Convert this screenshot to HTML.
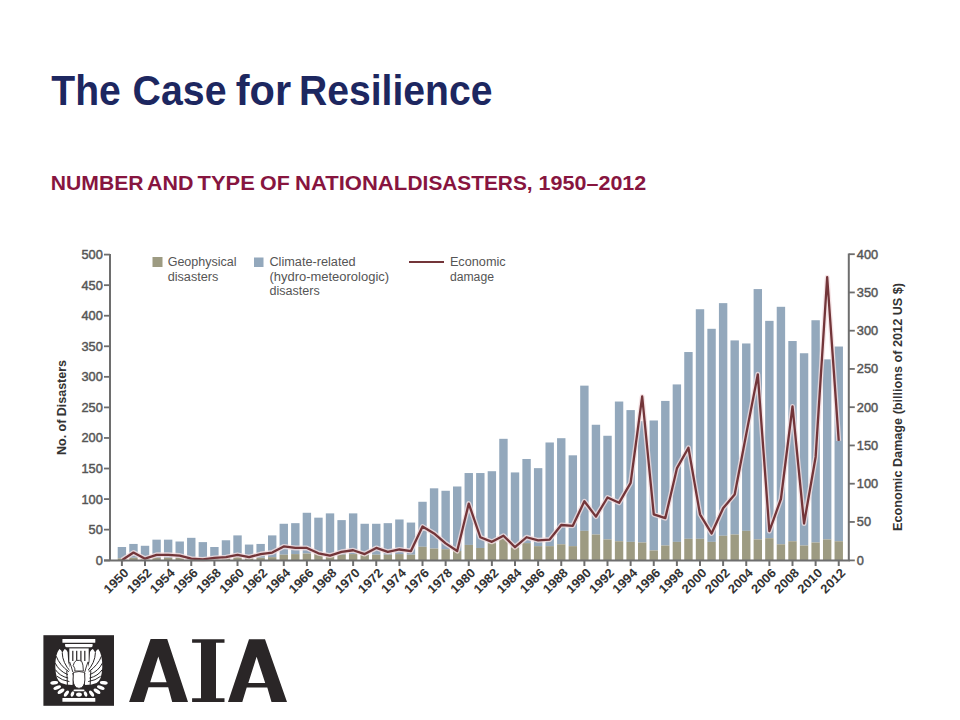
<!DOCTYPE html>
<html><head><meta charset="utf-8">
<style>
html,body{margin:0;padding:0;background:#fff;}
body{width:960px;height:720px;overflow:hidden;position:relative;font-family:"Liberation Sans",sans-serif;}
.title{position:absolute;left:51.3px;top:69.5px;font-size:40px;font-weight:bold;color:#1d2760;white-space:nowrap;letter-spacing:-0.3px;}
.sub{position:absolute;left:51px;top:171px;font-size:19.5px;font-weight:bold;color:#8c1b45;white-space:nowrap;}
svg{position:absolute;left:0;top:0;}
.tl{font-size:12.8px;fill:#555;stroke:#555;stroke-width:0.45px;font-family:"Liberation Sans",sans-serif;}
.xl{font-size:12.5px;font-weight:bold;fill:#333;font-family:"Liberation Sans",sans-serif;}
.lg{font-size:12px;fill:#555;font-family:"Liberation Sans",sans-serif;}
.sb{font-size:21px;font-weight:bold;fill:#87153f;font-family:"Liberation Sans",sans-serif;}
.tt{font-size:42.5px;font-weight:bold;fill:#1d2760;font-family:"Liberation Sans",sans-serif;}
.yt{font-size:12.5px;font-weight:bold;fill:#333;font-family:"Liberation Sans",sans-serif;}
</style></head><body>
<svg width="960" height="720" viewBox="0 0 960 720">
<g id="bars">
<rect x="117.70" y="547.00" width="8.4" height="11.37" fill="#93a8bc"/>
<rect x="117.70" y="558.37" width="8.4" height="1.83" fill="#9d9b82"/>
<rect x="129.26" y="543.94" width="8.4" height="13.81" fill="#93a8bc"/>
<rect x="129.26" y="557.76" width="8.4" height="2.44" fill="#9d9b82"/>
<rect x="140.82" y="545.78" width="8.4" height="12.59" fill="#93a8bc"/>
<rect x="140.82" y="558.37" width="8.4" height="1.83" fill="#9d9b82"/>
<rect x="152.39" y="539.66" width="8.4" height="18.09" fill="#93a8bc"/>
<rect x="152.39" y="557.76" width="8.4" height="2.44" fill="#9d9b82"/>
<rect x="163.95" y="539.66" width="8.4" height="18.09" fill="#93a8bc"/>
<rect x="163.95" y="557.76" width="8.4" height="2.44" fill="#9d9b82"/>
<rect x="175.51" y="541.50" width="8.4" height="16.26" fill="#93a8bc"/>
<rect x="175.51" y="557.76" width="8.4" height="2.44" fill="#9d9b82"/>
<rect x="187.07" y="537.83" width="8.4" height="19.93" fill="#93a8bc"/>
<rect x="187.07" y="557.76" width="8.4" height="2.44" fill="#9d9b82"/>
<rect x="198.63" y="542.11" width="8.4" height="15.65" fill="#93a8bc"/>
<rect x="198.63" y="557.76" width="8.4" height="2.44" fill="#9d9b82"/>
<rect x="210.20" y="547.00" width="8.4" height="11.37" fill="#93a8bc"/>
<rect x="210.20" y="558.37" width="8.4" height="1.83" fill="#9d9b82"/>
<rect x="221.76" y="540.27" width="8.4" height="17.48" fill="#93a8bc"/>
<rect x="221.76" y="557.76" width="8.4" height="2.44" fill="#9d9b82"/>
<rect x="233.32" y="535.39" width="8.4" height="21.76" fill="#93a8bc"/>
<rect x="233.32" y="557.14" width="8.4" height="3.06" fill="#9d9b82"/>
<rect x="244.88" y="544.55" width="8.4" height="13.20" fill="#93a8bc"/>
<rect x="244.88" y="557.76" width="8.4" height="2.44" fill="#9d9b82"/>
<rect x="256.44" y="543.94" width="8.4" height="13.81" fill="#93a8bc"/>
<rect x="256.44" y="557.76" width="8.4" height="2.44" fill="#9d9b82"/>
<rect x="268.01" y="535.39" width="8.4" height="21.76" fill="#93a8bc"/>
<rect x="268.01" y="557.14" width="8.4" height="3.06" fill="#9d9b82"/>
<rect x="279.57" y="523.77" width="8.4" height="30.93" fill="#93a8bc"/>
<rect x="279.57" y="554.70" width="8.4" height="5.50" fill="#9d9b82"/>
<rect x="291.13" y="523.16" width="8.4" height="30.93" fill="#93a8bc"/>
<rect x="291.13" y="554.09" width="8.4" height="6.11" fill="#9d9b82"/>
<rect x="302.69" y="512.77" width="8.4" height="40.71" fill="#93a8bc"/>
<rect x="302.69" y="553.48" width="8.4" height="6.72" fill="#9d9b82"/>
<rect x="314.25" y="517.66" width="8.4" height="36.43" fill="#93a8bc"/>
<rect x="314.25" y="554.09" width="8.4" height="6.11" fill="#9d9b82"/>
<rect x="325.82" y="513.38" width="8.4" height="40.71" fill="#93a8bc"/>
<rect x="325.82" y="554.09" width="8.4" height="6.11" fill="#9d9b82"/>
<rect x="337.38" y="520.11" width="8.4" height="34.59" fill="#93a8bc"/>
<rect x="337.38" y="554.70" width="8.4" height="5.50" fill="#9d9b82"/>
<rect x="348.94" y="513.38" width="8.4" height="40.71" fill="#93a8bc"/>
<rect x="348.94" y="554.09" width="8.4" height="6.11" fill="#9d9b82"/>
<rect x="360.50" y="523.77" width="8.4" height="30.93" fill="#93a8bc"/>
<rect x="360.50" y="554.70" width="8.4" height="5.50" fill="#9d9b82"/>
<rect x="372.06" y="523.77" width="8.4" height="30.93" fill="#93a8bc"/>
<rect x="372.06" y="554.70" width="8.4" height="5.50" fill="#9d9b82"/>
<rect x="383.63" y="523.16" width="8.4" height="31.54" fill="#93a8bc"/>
<rect x="383.63" y="554.70" width="8.4" height="5.50" fill="#9d9b82"/>
<rect x="395.19" y="519.49" width="8.4" height="34.59" fill="#93a8bc"/>
<rect x="395.19" y="554.09" width="8.4" height="6.11" fill="#9d9b82"/>
<rect x="406.75" y="522.55" width="8.4" height="32.15" fill="#93a8bc"/>
<rect x="406.75" y="554.70" width="8.4" height="5.50" fill="#9d9b82"/>
<rect x="418.31" y="501.77" width="8.4" height="44.98" fill="#93a8bc"/>
<rect x="418.31" y="546.75" width="8.4" height="13.45" fill="#9d9b82"/>
<rect x="429.87" y="488.32" width="8.4" height="60.26" fill="#93a8bc"/>
<rect x="429.87" y="548.59" width="8.4" height="11.61" fill="#9d9b82"/>
<rect x="441.44" y="490.77" width="8.4" height="58.43" fill="#93a8bc"/>
<rect x="441.44" y="549.20" width="8.4" height="11.00" fill="#9d9b82"/>
<rect x="453.00" y="486.49" width="8.4" height="64.54" fill="#93a8bc"/>
<rect x="453.00" y="551.03" width="8.4" height="9.17" fill="#9d9b82"/>
<rect x="464.56" y="473.04" width="8.4" height="71.88" fill="#93a8bc"/>
<rect x="464.56" y="544.92" width="8.4" height="15.28" fill="#9d9b82"/>
<rect x="476.12" y="473.04" width="8.4" height="74.93" fill="#93a8bc"/>
<rect x="476.12" y="547.98" width="8.4" height="12.22" fill="#9d9b82"/>
<rect x="487.68" y="471.21" width="8.4" height="71.88" fill="#93a8bc"/>
<rect x="487.68" y="543.09" width="8.4" height="17.11" fill="#9d9b82"/>
<rect x="499.25" y="438.82" width="8.4" height="98.77" fill="#93a8bc"/>
<rect x="499.25" y="537.59" width="8.4" height="22.61" fill="#9d9b82"/>
<rect x="510.81" y="472.43" width="8.4" height="74.93" fill="#93a8bc"/>
<rect x="510.81" y="547.36" width="8.4" height="12.84" fill="#9d9b82"/>
<rect x="522.37" y="458.99" width="8.4" height="84.10" fill="#93a8bc"/>
<rect x="522.37" y="543.09" width="8.4" height="17.11" fill="#9d9b82"/>
<rect x="533.93" y="468.15" width="8.4" height="77.99" fill="#93a8bc"/>
<rect x="533.93" y="546.14" width="8.4" height="14.06" fill="#9d9b82"/>
<rect x="545.49" y="442.48" width="8.4" height="103.66" fill="#93a8bc"/>
<rect x="545.49" y="546.14" width="8.4" height="14.06" fill="#9d9b82"/>
<rect x="557.06" y="438.20" width="8.4" height="106.10" fill="#93a8bc"/>
<rect x="557.06" y="544.31" width="8.4" height="15.89" fill="#9d9b82"/>
<rect x="568.62" y="455.32" width="8.4" height="90.82" fill="#93a8bc"/>
<rect x="568.62" y="546.14" width="8.4" height="14.06" fill="#9d9b82"/>
<rect x="580.18" y="385.64" width="8.4" height="145.22" fill="#93a8bc"/>
<rect x="580.18" y="530.86" width="8.4" height="29.34" fill="#9d9b82"/>
<rect x="591.74" y="424.76" width="8.4" height="109.77" fill="#93a8bc"/>
<rect x="591.74" y="534.53" width="8.4" height="25.67" fill="#9d9b82"/>
<rect x="603.30" y="435.76" width="8.4" height="103.66" fill="#93a8bc"/>
<rect x="603.30" y="539.42" width="8.4" height="20.78" fill="#9d9b82"/>
<rect x="614.87" y="401.53" width="8.4" height="139.72" fill="#93a8bc"/>
<rect x="614.87" y="541.25" width="8.4" height="18.95" fill="#9d9b82"/>
<rect x="626.43" y="410.09" width="8.4" height="131.77" fill="#93a8bc"/>
<rect x="626.43" y="541.86" width="8.4" height="18.34" fill="#9d9b82"/>
<rect x="637.99" y="421.09" width="8.4" height="121.38" fill="#93a8bc"/>
<rect x="637.99" y="542.48" width="8.4" height="17.72" fill="#9d9b82"/>
<rect x="649.55" y="420.48" width="8.4" height="129.94" fill="#93a8bc"/>
<rect x="649.55" y="550.42" width="8.4" height="9.78" fill="#9d9b82"/>
<rect x="661.11" y="400.92" width="8.4" height="144.61" fill="#93a8bc"/>
<rect x="661.11" y="545.53" width="8.4" height="14.67" fill="#9d9b82"/>
<rect x="672.68" y="384.42" width="8.4" height="157.45" fill="#93a8bc"/>
<rect x="672.68" y="541.86" width="8.4" height="18.34" fill="#9d9b82"/>
<rect x="684.24" y="352.03" width="8.4" height="186.78" fill="#93a8bc"/>
<rect x="684.24" y="538.81" width="8.4" height="21.39" fill="#9d9b82"/>
<rect x="695.80" y="309.24" width="8.4" height="229.57" fill="#93a8bc"/>
<rect x="695.80" y="538.81" width="8.4" height="21.39" fill="#9d9b82"/>
<rect x="707.36" y="328.80" width="8.4" height="213.06" fill="#93a8bc"/>
<rect x="707.36" y="541.86" width="8.4" height="18.34" fill="#9d9b82"/>
<rect x="718.92" y="303.13" width="8.4" height="232.62" fill="#93a8bc"/>
<rect x="718.92" y="535.75" width="8.4" height="24.45" fill="#9d9b82"/>
<rect x="730.49" y="340.41" width="8.4" height="194.12" fill="#93a8bc"/>
<rect x="730.49" y="534.53" width="8.4" height="25.67" fill="#9d9b82"/>
<rect x="742.05" y="343.47" width="8.4" height="187.39" fill="#93a8bc"/>
<rect x="742.05" y="530.86" width="8.4" height="29.34" fill="#9d9b82"/>
<rect x="753.61" y="289.07" width="8.4" height="250.35" fill="#93a8bc"/>
<rect x="753.61" y="539.42" width="8.4" height="20.78" fill="#9d9b82"/>
<rect x="765.17" y="320.85" width="8.4" height="217.34" fill="#93a8bc"/>
<rect x="765.17" y="538.20" width="8.4" height="22.00" fill="#9d9b82"/>
<rect x="776.73" y="306.80" width="8.4" height="237.51" fill="#93a8bc"/>
<rect x="776.73" y="544.31" width="8.4" height="15.89" fill="#9d9b82"/>
<rect x="788.30" y="341.02" width="8.4" height="200.23" fill="#93a8bc"/>
<rect x="788.30" y="541.25" width="8.4" height="18.95" fill="#9d9b82"/>
<rect x="799.86" y="353.25" width="8.4" height="192.28" fill="#93a8bc"/>
<rect x="799.86" y="545.53" width="8.4" height="14.67" fill="#9d9b82"/>
<rect x="811.42" y="320.24" width="8.4" height="222.23" fill="#93a8bc"/>
<rect x="811.42" y="542.48" width="8.4" height="17.72" fill="#9d9b82"/>
<rect x="822.98" y="359.36" width="8.4" height="180.06" fill="#93a8bc"/>
<rect x="822.98" y="539.42" width="8.4" height="20.78" fill="#9d9b82"/>
<rect x="834.54" y="346.52" width="8.4" height="194.73" fill="#93a8bc"/>
<rect x="834.54" y="541.25" width="8.4" height="18.95" fill="#9d9b82"/>
</g>
<g id="line"><polyline points="121.90,560.20 133.46,552.55 145.02,558.67 156.59,554.85 168.15,554.85 179.71,555.61 191.27,558.67 202.83,559.44 214.40,557.91 225.96,557.14 237.52,554.85 249.08,557.14 260.64,554.08 272.21,552.55 283.77,546.43 295.33,547.96 306.89,547.96 318.45,553.32 330.02,555.61 341.58,551.79 353.14,550.25 364.70,554.08 376.26,547.96 387.83,551.79 399.39,549.49 410.95,551.02 422.51,526.54 434.07,533.43 445.64,543.37 457.20,551.02 468.76,503.59 480.32,537.25 491.88,541.84 503.45,535.72 515.01,547.20 526.57,537.25 538.13,540.31 549.69,539.55 561.26,525.01 572.82,525.78 584.38,501.30 595.94,516.60 607.50,497.47 619.07,502.83 630.63,482.94 642.19,396.49 653.75,514.30 665.31,518.12 676.88,468.40 688.44,447.75 700.00,514.30 711.56,533.43 723.12,508.18 734.69,494.41 746.25,433.98 757.81,374.31 769.37,531.13 780.93,499.00 792.50,406.44 804.06,523.48 815.62,456.93 827.18,277.15 838.74,440.86" fill="none" stroke="#f3dde0" stroke-opacity="0.8" stroke-width="5" stroke-linejoin="round"/><polyline points="121.90,560.20 133.46,552.55 145.02,558.67 156.59,554.85 168.15,554.85 179.71,555.61 191.27,558.67 202.83,559.44 214.40,557.91 225.96,557.14 237.52,554.85 249.08,557.14 260.64,554.08 272.21,552.55 283.77,546.43 295.33,547.96 306.89,547.96 318.45,553.32 330.02,555.61 341.58,551.79 353.14,550.25 364.70,554.08 376.26,547.96 387.83,551.79 399.39,549.49 410.95,551.02 422.51,526.54 434.07,533.43 445.64,543.37 457.20,551.02 468.76,503.59 480.32,537.25 491.88,541.84 503.45,535.72 515.01,547.20 526.57,537.25 538.13,540.31 549.69,539.55 561.26,525.01 572.82,525.78 584.38,501.30 595.94,516.60 607.50,497.47 619.07,502.83 630.63,482.94 642.19,396.49 653.75,514.30 665.31,518.12 676.88,468.40 688.44,447.75 700.00,514.30 711.56,533.43 723.12,508.18 734.69,494.41 746.25,433.98 757.81,374.31 769.37,531.13 780.93,499.00 792.50,406.44 804.06,523.48 815.62,456.93 827.18,277.15 838.74,440.86" fill="none" stroke="#733539" stroke-width="2.3" stroke-linejoin="round"/></g>
<g id="axes">
<line x1="110.0" y1="254" x2="110.0" y2="560.5" stroke="#6e6e6e" stroke-width="2"/>
<line x1="848.8" y1="253.6" x2="848.8" y2="560.5" stroke="#6e6e6e" stroke-width="2"/>
<line x1="104" y1="560.4000000000001" x2="849.8" y2="560.4000000000001" stroke="#6e6e6e" stroke-width="2"/>
<line x1="104" y1="560.40" x2="110.0" y2="560.40" stroke="#6e6e6e" stroke-width="1.8"/>
<text x="102.8" y="564.90" text-anchor="end" class="tl">0</text>
<line x1="104" y1="529.64" x2="110.0" y2="529.64" stroke="#6e6e6e" stroke-width="1.8"/>
<text x="102.8" y="534.14" text-anchor="end" class="tl">50</text>
<line x1="104" y1="499.08" x2="110.0" y2="499.08" stroke="#6e6e6e" stroke-width="1.8"/>
<text x="102.8" y="503.58" text-anchor="end" class="tl">100</text>
<line x1="104" y1="468.52" x2="110.0" y2="468.52" stroke="#6e6e6e" stroke-width="1.8"/>
<text x="102.8" y="473.02" text-anchor="end" class="tl">150</text>
<line x1="104" y1="437.96" x2="110.0" y2="437.96" stroke="#6e6e6e" stroke-width="1.8"/>
<text x="102.8" y="442.46" text-anchor="end" class="tl">200</text>
<line x1="104" y1="407.40" x2="110.0" y2="407.40" stroke="#6e6e6e" stroke-width="1.8"/>
<text x="102.8" y="411.90" text-anchor="end" class="tl">250</text>
<line x1="104" y1="376.84" x2="110.0" y2="376.84" stroke="#6e6e6e" stroke-width="1.8"/>
<text x="102.8" y="381.34" text-anchor="end" class="tl">300</text>
<line x1="104" y1="346.28" x2="110.0" y2="346.28" stroke="#6e6e6e" stroke-width="1.8"/>
<text x="102.8" y="350.78" text-anchor="end" class="tl">350</text>
<line x1="104" y1="315.72" x2="110.0" y2="315.72" stroke="#6e6e6e" stroke-width="1.8"/>
<text x="102.8" y="320.22" text-anchor="end" class="tl">400</text>
<line x1="104" y1="285.16" x2="110.0" y2="285.16" stroke="#6e6e6e" stroke-width="1.8"/>
<text x="102.8" y="289.66" text-anchor="end" class="tl">450</text>
<line x1="104" y1="254.60" x2="110.0" y2="254.60" stroke="#6e6e6e" stroke-width="1.8"/>
<text x="102.8" y="259.10" text-anchor="end" class="tl">500</text>
<line x1="848.8" y1="560.40" x2="854.8" y2="560.40" stroke="#6e6e6e" stroke-width="1.8"/>
<text x="856.8" y="564.90" class="tl">0</text>
<line x1="848.8" y1="521.95" x2="854.8" y2="521.95" stroke="#6e6e6e" stroke-width="1.8"/>
<text x="856.8" y="526.45" class="tl">50</text>
<line x1="848.8" y1="483.70" x2="854.8" y2="483.70" stroke="#6e6e6e" stroke-width="1.8"/>
<text x="856.8" y="488.20" class="tl">100</text>
<line x1="848.8" y1="445.45" x2="854.8" y2="445.45" stroke="#6e6e6e" stroke-width="1.8"/>
<text x="856.8" y="449.95" class="tl">150</text>
<line x1="848.8" y1="407.20" x2="854.8" y2="407.20" stroke="#6e6e6e" stroke-width="1.8"/>
<text x="856.8" y="411.70" class="tl">200</text>
<line x1="848.8" y1="368.95" x2="854.8" y2="368.95" stroke="#6e6e6e" stroke-width="1.8"/>
<text x="856.8" y="373.45" class="tl">250</text>
<line x1="848.8" y1="330.70" x2="854.8" y2="330.70" stroke="#6e6e6e" stroke-width="1.8"/>
<text x="856.8" y="335.20" class="tl">300</text>
<line x1="848.8" y1="292.45" x2="854.8" y2="292.45" stroke="#6e6e6e" stroke-width="1.8"/>
<text x="856.8" y="296.95" class="tl">350</text>
<line x1="848.8" y1="254.20" x2="854.8" y2="254.20" stroke="#6e6e6e" stroke-width="1.8"/>
<text x="856.8" y="258.70" class="tl">400</text>
<line x1="121.90" y1="560.2" x2="121.90" y2="566" stroke="#6e6e6e" stroke-width="2"/>
<text transform="translate(129.40,573.6) rotate(-45)" text-anchor="end" class="xl" textLength="29.2" lengthAdjust="spacingAndGlyphs">1950</text>
<line x1="145.02" y1="560.2" x2="145.02" y2="566" stroke="#6e6e6e" stroke-width="2"/>
<text transform="translate(152.52,573.6) rotate(-45)" text-anchor="end" class="xl" textLength="29.2" lengthAdjust="spacingAndGlyphs">1952</text>
<line x1="168.15" y1="560.2" x2="168.15" y2="566" stroke="#6e6e6e" stroke-width="2"/>
<text transform="translate(175.65,573.6) rotate(-45)" text-anchor="end" class="xl" textLength="29.2" lengthAdjust="spacingAndGlyphs">1954</text>
<line x1="191.27" y1="560.2" x2="191.27" y2="566" stroke="#6e6e6e" stroke-width="2"/>
<text transform="translate(198.77,573.6) rotate(-45)" text-anchor="end" class="xl" textLength="29.2" lengthAdjust="spacingAndGlyphs">1956</text>
<line x1="214.40" y1="560.2" x2="214.40" y2="566" stroke="#6e6e6e" stroke-width="2"/>
<text transform="translate(221.90,573.6) rotate(-45)" text-anchor="end" class="xl" textLength="29.2" lengthAdjust="spacingAndGlyphs">1958</text>
<line x1="237.52" y1="560.2" x2="237.52" y2="566" stroke="#6e6e6e" stroke-width="2"/>
<text transform="translate(245.02,573.6) rotate(-45)" text-anchor="end" class="xl" textLength="29.2" lengthAdjust="spacingAndGlyphs">1960</text>
<line x1="260.64" y1="560.2" x2="260.64" y2="566" stroke="#6e6e6e" stroke-width="2"/>
<text transform="translate(268.14,573.6) rotate(-45)" text-anchor="end" class="xl" textLength="29.2" lengthAdjust="spacingAndGlyphs">1962</text>
<line x1="283.77" y1="560.2" x2="283.77" y2="566" stroke="#6e6e6e" stroke-width="2"/>
<text transform="translate(291.27,573.6) rotate(-45)" text-anchor="end" class="xl" textLength="29.2" lengthAdjust="spacingAndGlyphs">1964</text>
<line x1="306.89" y1="560.2" x2="306.89" y2="566" stroke="#6e6e6e" stroke-width="2"/>
<text transform="translate(314.39,573.6) rotate(-45)" text-anchor="end" class="xl" textLength="29.2" lengthAdjust="spacingAndGlyphs">1966</text>
<line x1="330.02" y1="560.2" x2="330.02" y2="566" stroke="#6e6e6e" stroke-width="2"/>
<text transform="translate(337.52,573.6) rotate(-45)" text-anchor="end" class="xl" textLength="29.2" lengthAdjust="spacingAndGlyphs">1968</text>
<line x1="353.14" y1="560.2" x2="353.14" y2="566" stroke="#6e6e6e" stroke-width="2"/>
<text transform="translate(360.64,573.6) rotate(-45)" text-anchor="end" class="xl" textLength="29.2" lengthAdjust="spacingAndGlyphs">1970</text>
<line x1="376.26" y1="560.2" x2="376.26" y2="566" stroke="#6e6e6e" stroke-width="2"/>
<text transform="translate(383.76,573.6) rotate(-45)" text-anchor="end" class="xl" textLength="29.2" lengthAdjust="spacingAndGlyphs">1972</text>
<line x1="399.39" y1="560.2" x2="399.39" y2="566" stroke="#6e6e6e" stroke-width="2"/>
<text transform="translate(406.89,573.6) rotate(-45)" text-anchor="end" class="xl" textLength="29.2" lengthAdjust="spacingAndGlyphs">1974</text>
<line x1="422.51" y1="560.2" x2="422.51" y2="566" stroke="#6e6e6e" stroke-width="2"/>
<text transform="translate(430.01,573.6) rotate(-45)" text-anchor="end" class="xl" textLength="29.2" lengthAdjust="spacingAndGlyphs">1976</text>
<line x1="445.64" y1="560.2" x2="445.64" y2="566" stroke="#6e6e6e" stroke-width="2"/>
<text transform="translate(453.14,573.6) rotate(-45)" text-anchor="end" class="xl" textLength="29.2" lengthAdjust="spacingAndGlyphs">1978</text>
<line x1="468.76" y1="560.2" x2="468.76" y2="566" stroke="#6e6e6e" stroke-width="2"/>
<text transform="translate(476.26,573.6) rotate(-45)" text-anchor="end" class="xl" textLength="29.2" lengthAdjust="spacingAndGlyphs">1980</text>
<line x1="491.88" y1="560.2" x2="491.88" y2="566" stroke="#6e6e6e" stroke-width="2"/>
<text transform="translate(499.38,573.6) rotate(-45)" text-anchor="end" class="xl" textLength="29.2" lengthAdjust="spacingAndGlyphs">1982</text>
<line x1="515.01" y1="560.2" x2="515.01" y2="566" stroke="#6e6e6e" stroke-width="2"/>
<text transform="translate(522.51,573.6) rotate(-45)" text-anchor="end" class="xl" textLength="29.2" lengthAdjust="spacingAndGlyphs">1984</text>
<line x1="538.13" y1="560.2" x2="538.13" y2="566" stroke="#6e6e6e" stroke-width="2"/>
<text transform="translate(545.63,573.6) rotate(-45)" text-anchor="end" class="xl" textLength="29.2" lengthAdjust="spacingAndGlyphs">1986</text>
<line x1="561.26" y1="560.2" x2="561.26" y2="566" stroke="#6e6e6e" stroke-width="2"/>
<text transform="translate(568.76,573.6) rotate(-45)" text-anchor="end" class="xl" textLength="29.2" lengthAdjust="spacingAndGlyphs">1988</text>
<line x1="584.38" y1="560.2" x2="584.38" y2="566" stroke="#6e6e6e" stroke-width="2"/>
<text transform="translate(591.88,573.6) rotate(-45)" text-anchor="end" class="xl" textLength="29.2" lengthAdjust="spacingAndGlyphs">1990</text>
<line x1="607.50" y1="560.2" x2="607.50" y2="566" stroke="#6e6e6e" stroke-width="2"/>
<text transform="translate(615.00,573.6) rotate(-45)" text-anchor="end" class="xl" textLength="29.2" lengthAdjust="spacingAndGlyphs">1992</text>
<line x1="630.63" y1="560.2" x2="630.63" y2="566" stroke="#6e6e6e" stroke-width="2"/>
<text transform="translate(638.13,573.6) rotate(-45)" text-anchor="end" class="xl" textLength="29.2" lengthAdjust="spacingAndGlyphs">1994</text>
<line x1="653.75" y1="560.2" x2="653.75" y2="566" stroke="#6e6e6e" stroke-width="2"/>
<text transform="translate(661.25,573.6) rotate(-45)" text-anchor="end" class="xl" textLength="29.2" lengthAdjust="spacingAndGlyphs">1996</text>
<line x1="676.88" y1="560.2" x2="676.88" y2="566" stroke="#6e6e6e" stroke-width="2"/>
<text transform="translate(684.38,573.6) rotate(-45)" text-anchor="end" class="xl" textLength="29.2" lengthAdjust="spacingAndGlyphs">1998</text>
<line x1="700.00" y1="560.2" x2="700.00" y2="566" stroke="#6e6e6e" stroke-width="2"/>
<text transform="translate(707.50,573.6) rotate(-45)" text-anchor="end" class="xl" textLength="29.2" lengthAdjust="spacingAndGlyphs">2000</text>
<line x1="723.12" y1="560.2" x2="723.12" y2="566" stroke="#6e6e6e" stroke-width="2"/>
<text transform="translate(730.62,573.6) rotate(-45)" text-anchor="end" class="xl" textLength="29.2" lengthAdjust="spacingAndGlyphs">2002</text>
<line x1="746.25" y1="560.2" x2="746.25" y2="566" stroke="#6e6e6e" stroke-width="2"/>
<text transform="translate(753.75,573.6) rotate(-45)" text-anchor="end" class="xl" textLength="29.2" lengthAdjust="spacingAndGlyphs">2004</text>
<line x1="769.37" y1="560.2" x2="769.37" y2="566" stroke="#6e6e6e" stroke-width="2"/>
<text transform="translate(776.87,573.6) rotate(-45)" text-anchor="end" class="xl" textLength="29.2" lengthAdjust="spacingAndGlyphs">2006</text>
<line x1="792.50" y1="560.2" x2="792.50" y2="566" stroke="#6e6e6e" stroke-width="2"/>
<text transform="translate(800.00,573.6) rotate(-45)" text-anchor="end" class="xl" textLength="29.2" lengthAdjust="spacingAndGlyphs">2008</text>
<line x1="815.62" y1="560.2" x2="815.62" y2="566" stroke="#6e6e6e" stroke-width="2"/>
<text transform="translate(823.12,573.6) rotate(-45)" text-anchor="end" class="xl" textLength="29.2" lengthAdjust="spacingAndGlyphs">2010</text>
<line x1="838.74" y1="560.2" x2="838.74" y2="566" stroke="#6e6e6e" stroke-width="2"/>
<text transform="translate(846.24,573.6) rotate(-45)" text-anchor="end" class="xl" textLength="29.2" lengthAdjust="spacingAndGlyphs">2012</text>
</g>
<g id="legend">
<rect x="152.5" y="257" width="10" height="10" fill="#9d9b82"/>
<rect x="254" y="257.5" width="9.5" height="9.5" fill="#93a8bc"/>
<line x1="409" y1="262" x2="444" y2="262" stroke="#733539" stroke-width="2"/>
<text x="167.65" y="266" class="lg" textLength="69.00" lengthAdjust="spacingAndGlyphs">Geophysical</text>
<text x="167.65" y="281" class="lg" textLength="50.75" lengthAdjust="spacingAndGlyphs">disasters</text>
<text x="269.40" y="266" class="lg" textLength="86.20" lengthAdjust="spacingAndGlyphs">Climate-related</text>
<text x="269.40" y="280.5" class="lg" textLength="119.70" lengthAdjust="spacingAndGlyphs">(hydro-meteorologic)</text>
<text x="269.40" y="295" class="lg" textLength="50.30" lengthAdjust="spacingAndGlyphs">disasters</text>
<text x="449.90" y="266" class="lg" textLength="55.80" lengthAdjust="spacingAndGlyphs">Economic</text>
<text x="449.90" y="281" class="lg" textLength="44.10" lengthAdjust="spacingAndGlyphs">damage</text></g>
<g id="yt">
<text transform="translate(66,455) rotate(-90)" class="yt" textLength="95" lengthAdjust="spacingAndGlyphs">No. of Disasters</text>
<text transform="translate(902,531) rotate(-90)" class="yt" textLength="248" lengthAdjust="spacingAndGlyphs">Economic Damage (billions of 2012 US $)</text>
</g>
<g id="sub"><text x="50.80" y="190.0" class="sb" textLength="92.70" lengthAdjust="spacingAndGlyphs">NUMBER</text>
<text x="147.10" y="190.0" class="sb" textLength="46.40" lengthAdjust="spacingAndGlyphs">AND</text>
<text x="197.55" y="190.0" class="sb" textLength="57.20" lengthAdjust="spacingAndGlyphs">TYPE</text>
<text x="260.05" y="190.0" class="sb" textLength="29.70" lengthAdjust="spacingAndGlyphs">OF</text>
<text x="295.05" y="190.0" class="sb" textLength="112.20" lengthAdjust="spacingAndGlyphs">NATIONAL</text>
<text x="407.55" y="190.0" class="sb" textLength="125.05" lengthAdjust="spacingAndGlyphs">DISASTERS,</text>
<text x="538.60" y="190.0" class="sb" textLength="107.70" lengthAdjust="spacingAndGlyphs">1950&#8211;2012</text></g>
<g id="title"><text x="51.30" y="104.9" class="tt" textLength="69.50" lengthAdjust="spacingAndGlyphs">The</text>
<text x="132.60" y="104.9" class="tt" textLength="93.90" lengthAdjust="spacingAndGlyphs">Case</text>
<text x="235.70" y="104.9" class="tt" textLength="55.40" lengthAdjust="spacingAndGlyphs">for</text>
<text x="299.00" y="104.9" class="tt" textLength="193.50" lengthAdjust="spacingAndGlyphs">Resilience</text></g>
<g id="logo">
<rect x="43.4" y="635.2" width="70.6" height="70.6" fill="#2a2627"/>
<g fill="#fff">
<rect x="62.4" y="639" width="32.9" height="3.8" rx="0.6"/>
<path d="M65.1,644 H92.6 V645.8 Q92.6,647.2 91.2,647.2 H66.5 Q65.1,647.2 65.1,645.8 Z"/>
<rect x="69.3" y="648.4" width="19.4" height="13.5"/>
<rect x="62.4" y="697.9" width="32.9" height="3.9" rx="0.4"/>
</g>
<g fill="#2a2627">
<rect x="72.2" y="650.8" width="1.2" height="11"/>
<rect x="76.1" y="650.8" width="1.2" height="11"/>
<rect x="80.3" y="650.8" width="1.2" height="11"/>
<rect x="84.2" y="650.8" width="1.2" height="11"/>
</g>
<g id="wingL">
<path fill="#fff" d="M59.4,649 Q57,652 56.3,656 Q55.2,661 55.3,667 Q55.5,673 57,678 Q58.5,681.5 61,683 L66,684.5 L72.5,685 L73,676 L71.5,670 Q69,667 68.2,662 L67.6,652 Q66.5,649.5 64.7,649 Q63,651 62.4,653 Q61.5,650 59.4,649 Z"/>
<g fill="none" stroke="#2a2627" stroke-width="1" stroke-linecap="round">
<path d="M62.2,653 Q62.5,663 70.5,671.5"/>
<path d="M56.3,656.5 Q59.5,665 68.5,671.5"/>
<path d="M55.4,663.5 Q59,671 67.5,674.5"/>
<path d="M55.6,670 Q59.5,676 67.8,678"/>
<path d="M57.2,676.5 Q62,680.5 69,681.5"/>
<path d="M66.8,671 L67.4,684.5"/>
</g>
</g>
<use href="#wingL" transform="translate(157.6,0) scale(-1,1)"/>
<rect x="69.5" y="661" width="18.6" height="12" fill="#fff"/>
<g fill="none" stroke="#2a2627" stroke-width="0.9"><path d="M69.6,661.8 Q71.5,667 72.8,672"/><path d="M88,661.8 Q86.1,667 84.8,672"/></g>
<g fill="#fff" stroke="#2a2627" stroke-width="0.9">
<path d="M73.2,665.6 Q74,661.5 76.5,660.4 Q80,659.8 81.8,661.5 Q83.2,664 83.4,671 L74.8,671 Q75.2,668.5 74.2,667.2 Z"/>
<path d="M73.4,672.4 Q79,670.6 84.6,672.4 L84.9,680 Q84.5,687.8 79,688.4 Q73.5,687.8 73.1,680 Z"/>
</g>
<g fill="#fff">
<ellipse cx="54.2" cy="682.8" rx="4" ry="1.8" transform="rotate(-8 54.2 682.8)"/>
<ellipse cx="57.2" cy="687.6" rx="4" ry="1.8" transform="rotate(-20 57.2 687.6)"/>
<ellipse cx="61" cy="691.3" rx="3.9" ry="1.8" transform="rotate(-35 61 691.3)"/>
<ellipse cx="66.4" cy="693.6" rx="3.6" ry="1.7" transform="rotate(-55 66.4 693.6)"/>
<ellipse cx="72.4" cy="694" rx="2.8" ry="1.6" transform="rotate(-65 72.4 694)"/>
<ellipse cx="79" cy="694.6" rx="2.9" ry="2.1"/>
<ellipse cx="85.6" cy="694" rx="2.8" ry="1.6" transform="rotate(65 85.6 694)"/>
<ellipse cx="91.6" cy="693.6" rx="3.6" ry="1.7" transform="rotate(55 91.6 693.6)"/>
<ellipse cx="97" cy="691.3" rx="3.9" ry="1.8" transform="rotate(35 97 691.3)"/>
<ellipse cx="100.8" cy="687.6" rx="4" ry="1.8" transform="rotate(20 100.8 687.6)"/>
<ellipse cx="103.8" cy="682.8" rx="4" ry="1.8" transform="rotate(8 103.8 682.8)"/>
<rect x="73.5" y="689.6" width="11" height="1.6" rx="0.8"/>
</g>
<g fill="#2a2627">
<path d="M129.1,702 L150.6,638.9 L167.2,638.9 L188,702 L172.2,702 L168.2,687.3 L148.5,687.3 L143.9,702 Z M158.3,656.5 L150.2,682.3 L166.6,682.3 Z" fill-rule="evenodd"/>
<path d="M192.1,639.2 H224.5 V642.8 H216 V698.3 H224.5 V702 H192.1 V698.3 H201 V642.8 H192.1 Z"/>
<path d="M228,702 L249,639.2 L265,639.2 L287,702 L271.5,702 L267.3,687.5 L246.7,687.5 L242.3,702 Z M256.6,656.8 L248.3,682.9 L265.2,682.9 Z" fill-rule="evenodd"/>
</g>

</g>
</svg>
</body></html>
